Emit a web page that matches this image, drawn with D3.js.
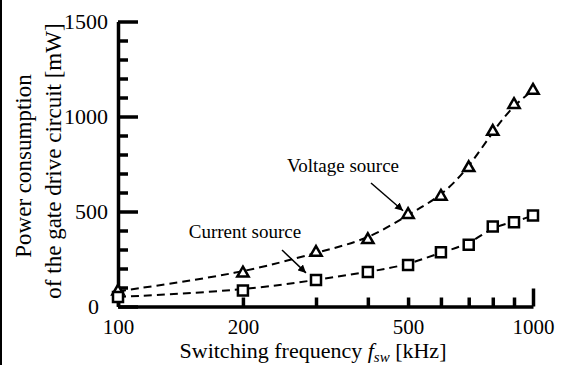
<!DOCTYPE html>
<html>
<head>
<meta charset="utf-8">
<script src="https://cdn.jsdelivr.net/npm/d3@7"></script>
<style>
  body { margin: 0; background: #fff; }
  svg { display: block; }
  svg text { font-family: "Liberation Serif", "DejaVu Serif", Times, serif; fill: #000; }
</style>
</head>
<body>
<script>
    //data
    var freq = [100, 200, 300, 400, 500, 600, 700, 800, 900, 1000]; // kHz
    var voltageSource = [80, 175, 284, 351, 483, 579, 730, 921, 1062, 1137]; // mW
    var currentSource = [50, 84, 140, 181, 219, 286, 325, 421, 444, 479]; // mW

    var xTickValues = [100, 200, 300, 400, 500, 600, 700, 800, 900, 1000];
    var xTickLabels = [100, 200, 500, 1000];
    var yTickValues = d3.range(0, 1501, 100);
    var yTickLabels = [0, 500, 1000, 1500];

    var width = 561;
    var height = 365;
    var serif = "'Liberation Serif', 'DejaVu Serif', Times, serif";

    //plot area
    var plot = { left: 118, right: 533, top: 21.5, bottom: 306.5 };

    var xScale = d3.scaleLog()
        .domain([100, 1000])
        .range([plot.left, plot.right]);

    var yScale = d3.scaleLinear()
        .domain([0, 1500])
        .range([plot.bottom, plot.top]);

    var svg = d3.select("body")
        .append("svg")
        .attr("width", width)
        .attr("height", height)
        .attr("font-family", serif);

    //left border of the figure
    svg.append("line")
        .attr("x1", 1).attr("x2", 1)
        .attr("y1", 0).attr("y2", height)
        .attr("stroke", "#000")
        .attr("stroke-width", 2);

    //dashed fit curves
    var line = d3.line()
        .x(function (d) { return xScale(d[0]); })
        .y(function (d) { return yScale(d[1]); })
        .curve(d3.curveBasis);

    var series = [
        { values: voltageSource, symbol: d3.symbolTriangle, size: 55 },
        { values: currentSource, symbol: d3.symbolSquare, size: 100 }
    ];

    series.forEach(function (s) {
        var pts = freq.map(function (f, i) { return [f, s.values[i]]; });
        svg.append("path")
            .datum(pts)
            .attr("d", line)
            .attr("fill", "none")
            .attr("stroke", "#000")
            .attr("stroke-width", 2)
            .attr("stroke-dasharray", "8,5");
    });

    //axes
    var yAxis = d3.axisLeft(yScale)
        .tickValues(yTickValues)
        .tickSizeOuter(0)
        .tickPadding(4)
        .tickFormat(function (d) { return yTickLabels.indexOf(d) >= 0 ? d : ""; });

    var yG = svg.append("g")
        .attr("transform", "translate(" + plot.left + ",0)")
        .call(yAxis);

    yG.selectAll(".tick line")
        .attr("x2", function (d) { return d % 500 === 0 ? 20 : 10; });

    yG.selectAll(".tick text")
        .attr("dx", function (d) { return d === 0 ? -9 : 0; });

    var xAxis = d3.axisBottom(xScale)
        .tickValues(xTickValues)
        .tickSizeOuter(0)
        .tickPadding(7)
        .tickFormat(function (d) { return xTickLabels.indexOf(d) >= 0 ? d : ""; });

    var xG = svg.append("g")
        .attr("transform", "translate(0," + plot.bottom + ")")
        .call(xAxis);

    xG.selectAll(".tick line")
        .attr("y2", function (d) { return d === 1000 ? -18 : -9; });

    yG.attr("font-family", serif).attr("font-size", 22);
    xG.attr("font-family", serif).attr("font-size", 21);

    [yG, xG].forEach(function (g) {
        g.select(".domain").attr("stroke-width", 3.5);
        g.selectAll(".tick line").attr("stroke-width", 3.5);
    });

    //markers
    series.forEach(function (s) {
        svg.append("g").selectAll("path")
            .data(freq)
            .enter()
            .append("path")
            .attr("transform", function (d, i) {
                return "translate(" + xScale(d) + "," + yScale(s.values[i]) + ")";
            })
            .attr("d", d3.symbol().type(s.symbol).size(s.size))
            .attr("fill", "#fff")
            .attr("stroke", "#000")
            .attr("stroke-width", 2.5);
    });

    //annotations
    svg.append("defs").append("marker")
        .attr("id", "arrow")
        .attr("viewBox", "0 0 10 10")
        .attr("refX", 10).attr("refY", 5)
        .attr("markerWidth", 8).attr("markerHeight", 8)
        .attr("markerUnits", "userSpaceOnUse")
        .attr("orient", "auto")
        .append("path")
        .attr("d", "M0,0L10,5L0,10Z")
        .attr("fill", "#000");

    svg.append("text")
        .attr("x", 343).attr("y", 172)
        .attr("text-anchor", "middle")
        .attr("font-size", 19)
        .text("Voltage source");
    svg.append("line")
        .attr("x1", 371).attr("y1", 183)
        .attr("x2", xScale(500) - 5).attr("y2", yScale(483) - 4)
        .attr("stroke", "#000").attr("stroke-width", 1.5)
        .attr("marker-end", "url(#arrow)");

    svg.append("text")
        .attr("x", 245).attr("y", 238)
        .attr("text-anchor", "middle")
        .attr("font-size", 19)
        .text("Current source");
    svg.append("line")
        .attr("x1", 282).attr("y1", 250)
        .attr("x2", xScale(300) - 10).attr("y2", yScale(140) - 7)
        .attr("stroke", "#000").attr("stroke-width", 1.5)
        .attr("marker-end", "url(#arrow)");

    //axis titles
    var xTitle = svg.append("text")
        .attr("x", 313).attr("y", 358)
        .attr("text-anchor", "middle")
        .attr("font-size", 22);
    xTitle.append("tspan").text("Switching frequency ");
    xTitle.append("tspan").attr("font-style", "italic").text("f");
    xTitle.append("tspan").attr("font-style", "italic").attr("font-size", 15)
        .attr("dy", 4).text("sw");
    xTitle.append("tspan").attr("dy", -4).text(" [kHz]");

    svg.append("text")
        .attr("transform", "translate(31,166) rotate(-90)")
        .attr("text-anchor", "middle")
        .attr("font-size", 23)
        .text("Power consumption");

    svg.append("text")
        .attr("transform", "translate(61,161) rotate(-90)")
        .attr("text-anchor", "middle")
        .attr("font-size", 23)
        .text("of the gate drive circuit [mW]");
</script>
</body>
</html>
